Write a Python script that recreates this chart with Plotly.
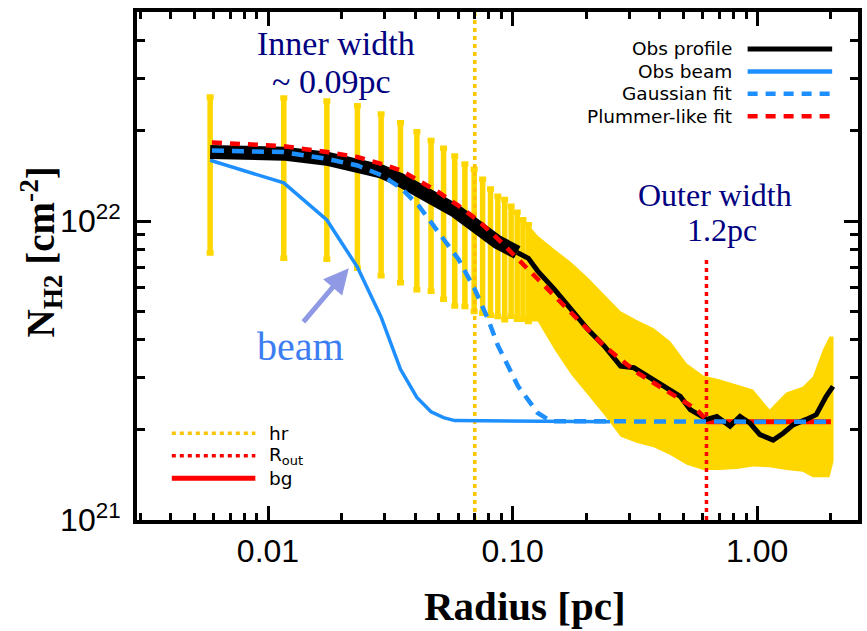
import math
import plotly.graph_objects as go

# ---------------- data ----------------
# radial bins with individual error bars (pc)
r_bins = [0.0058, 0.0116, 0.0174, 0.0232, 0.0290, 0.0348, 0.0406, 0.0464, 0.0522, 0.0580,
          0.0638, 0.0696, 0.0754, 0.0812, 0.0870, 0.0928, 0.0986, 0.1044, 0.1102, 0.1160]
prof_bins = [1.70e22, 1.68e22, 1.615e22, 1.53e22, 1.466e22, 1.37e22, 1.285e22, 1.207e22, 1.14e22, 1.086e22,
             1.025e22, 0.964e22, 0.916e22, 0.880e22, 0.849e22, 0.826e22, 0.806e22, 0.785e22, 0.769e22, 0.750e22]
bar_hi = [2.60e22, 2.58e22, 2.52e22, 2.43e22, 2.28e22, 2.13e22, 1.99e22, 1.86e22, 1.75e22, 1.65e22,
          1.55e22, 1.49e22, 1.38e22, 1.28e22, 1.21e22, 1.18e22, 1.12e22, 1.07e22, 1.01e22, 0.971e22]
bar_lo = [7.82e21, 7.50e21, 7.45e21, 6.95e21, 6.56e21, 6.22e21, 5.89e21, 5.82e21, 5.47e21, 5.20e21,
          5.18e21, 4.98e21, 4.91e21, 4.84e21, 4.79e21, 4.67e21, 4.80e21, 4.69e21, 4.69e21, 4.61e21]

# dense error envelope at larger radii
band_r = [0.1160, 0.1267, 0.1482, 0.1731, 0.2024, 0.2366, 0.2763, 0.3229, 0.3774, 0.4408,
          0.5152, 0.6022, 0.7036, 0.8224, 0.9612, 1.123, 1.313, 1.534, 1.689, 1.855, 1.973, 2.05]
band_hi = [9.71e21, 8.93e21, 8.05e21, 7.29e21, 6.49e21, 5.69e21, 4.99e21, 4.66e21, 4.38e21, 3.96e21,
           3.34e21, 3.04e21, 2.95e21, 2.84e21, 2.73e21, 2.34e21, 2.67e21, 2.79e21, 3.02e21, 3.72e21, 4.11e21, 4.11e21]
band_lo = [4.61e21, 4.61e21, 3.72e21, 3.07e21, 2.63e21, 2.25e21, 1.90e21, 1.81e21, 1.75e21, 1.65e21,
           1.53e21, 1.47e21, 1.47e21, 1.48e21, 1.51e21, 1.50e21, 1.47e21, 1.45e21, 1.39e21, 1.39e21, 1.39e21, 1.57e21]

# observed profile beyond the error-bar bins
prof_r = [0.1044, 0.1102, 0.1160, 0.1267, 0.1482, 0.1731, 0.2024, 0.2366, 0.2763, 0.3133,
          0.3548, 0.415, 0.4846, 0.532, 0.5666, 0.6223, 0.6834, 0.7737, 0.850, 0.933,
          1.025, 1.161, 1.276, 1.401, 1.585, 1.742, 1.913, 2.04]
prof_n = [7.85e21, 7.69e21, 7.50e21, 6.80e21, 5.91e21, 5.07e21, 4.35e21, 3.82e21, 3.27e21, 3.23e21,
          3.03e21, 2.80e21, 2.59e21, 2.34e21, 2.28e21, 2.17e21, 2.22e21, 2.06e21, 2.22e21, 2.11e21,
          1.93e21, 1.85e21, 1.95e21, 2.08e21, 2.17e21, 2.25e21, 2.59e21, 2.80e21]

# observed beam
beam_r = [0.0058, 0.0116, 0.0174, 0.0232, 0.0290, 0.0348, 0.0406, 0.0464, 0.0522, 0.0580, 0.25]
beam_n = [1.596e22, 1.341e22, 1.008e22, 7.01e21, 4.77e21, 3.19e21, 2.57e21, 2.30e21, 2.20e21, 2.15e21, 2.13e21]

# Gaussian fit
gauss_r = [0.0059, 0.0115, 0.0174, 0.0232, 0.0293, 0.0353, 0.0413, 0.0498, 0.0600, 0.0700,
           0.0794, 0.0872, 0.1053, 0.1267, 0.1436, 2.0]
gauss_n = [1.72e22, 1.70e22, 1.615e22, 1.533e22, 1.419e22, 1.28e22, 1.125e22, 9.16e21, 7.46e21, 5.91e21,
           4.69e21, 3.82e21, 2.80e21, 2.28e21, 2.14e21, 2.13e21]

# Plummer-like fit
plum_r = [0.0059, 0.0115, 0.0174, 0.0232, 0.0293, 0.0349, 0.0413, 0.0498, 0.0600, 0.0724,
          0.0872, 0.1053, 0.1267, 0.1528, 0.1842, 0.2366, 0.3229, 0.4408, 0.5666, 0.6223]
plum_n = [1.83e22, 1.78e22, 1.70e22, 1.636e22, 1.55e22, 1.475e22, 1.365e22, 1.248e22, 1.125e22, 1.002e22,
          8.70e21, 7.46e21, 6.38e21, 5.47e21, 4.69e21, 3.82e21, 3.11e21, 2.66e21, 2.34e21, 2.15e21]

# background, hr and R_out
bg_r = [0.6223, 2.0]
bg_n = [2.13e21, 2.13e21]
hr_r = 0.070
rout_r = 0.62
rout_top = 7.6e21
y_lim = [1e21, 5e22]
x_lim = [0.002914, 2.581]

x_tickvals = [0.01, 0.1, 1.0]
x_ticktext = ["0.01", "0.10", "1.00"]
x_minor = [0.003, 0.004, 0.005, 0.006, 0.007, 0.008, 0.009,
           0.02, 0.03, 0.04, 0.05, 0.06, 0.07, 0.08, 0.09,
           0.2, 0.3, 0.4, 0.5, 0.6, 0.7, 0.8, 0.9, 2.0]
y_tickvals = [1e21, 1e22]
y_ticktext = ["10<sup>21</sup>", "10<sup>22</sup>"]
y_minor = [2e21, 3e21, 4e21, 5e21, 6e21, 7e21, 8e21, 9e21, 2e22, 3e22, 4e22]

legend_top = ["Obs profile", "Obs beam", "Gaussian fit", "Plummer-like fit"]
legend_bot = ["hr", "R<sub>out</sub>", "bg"]

# ---------------- styles ----------------
GOLD = "#FFD700"
HRGOLD = "#FFC400"
BLUE = "#1E8FFF"
RED = "#FF0000"
NAVY = "#000080"
SERIF = "Liberation Serif"
SANS = "DejaVu Sans"

fig = go.Figure()

# dense envelope
fig.add_trace(go.Scatter(x=band_r + band_r[::-1], y=band_hi + band_lo[::-1], mode="lines",
                         fill="toself", fillcolor=GOLD, line=dict(width=0, color=GOLD)))
# error bars
fig.add_trace(go.Scatter(x=r_bins, y=prof_bins, mode="markers",
                         marker=dict(size=1, color="rgba(0,0,0,0)"),
                         error_y=dict(type="data", symmetric=False,
                                      array=[h - p for h, p in zip(bar_hi, prof_bins)],
                                      arrayminus=[p - l for p, l in zip(prof_bins, bar_lo)],
                                      color=GOLD, thickness=5.5, width=3.5)))
# vertical markers
fig.add_trace(go.Scatter(x=[hr_r, hr_r], y=y_lim, mode="lines",
                         line=dict(color=HRGOLD, width=3.5, dash="4px,4px")))
fig.add_trace(go.Scatter(x=[rout_r, rout_r], y=[y_lim[0], rout_top], mode="lines",
                         line=dict(color=RED, width=3.5, dash="4px,4px")))
# background
fig.add_trace(go.Scatter(x=bg_r, y=bg_n, mode="lines", line=dict(color=RED, width=5)))
# beam
fig.add_trace(go.Scatter(x=beam_r, y=beam_n, mode="lines", line=dict(color=BLUE, width=3.5)))
# observed profile (thick inner part, thinner outer part)
fig.add_trace(go.Scatter(x=r_bins[:18], y=prof_bins[:18], mode="lines",
                         line=dict(color="black", width=14)))
fig.add_trace(go.Scatter(x=prof_r, y=prof_n, mode="lines", line=dict(color="black", width=5)))
# fits
fig.add_trace(go.Scatter(x=gauss_r, y=gauss_n, mode="lines",
                         line=dict(color=BLUE, width=4.5, dash="12px,8px")))
fig.add_trace(go.Scatter(x=plum_r, y=plum_n, mode="lines",
                         line=dict(color=RED, width=4.5, dash="10px,8px")))

# ---------------- layout geometry ----------------
L, R, T, B = 137, 862, 12, 520
W, H = R - L, B - T


def px(x):
    return (x - L) / W


def py(y):
    return (B - y) / H


shapes = []
annotations = []

# top-right legend
top_styles = [dict(color="black", width=5), dict(color=BLUE, width=4.5),
              dict(color=BLUE, width=4.5, dash="10px,8px"), dict(color=RED, width=4.5, dash="10px,8px")]
for i, (lab, st) in enumerate(zip(legend_top, top_styles)):
    yy = py(49 + i * 22.4)
    shapes.append(dict(type="line", xref="paper", yref="paper", x0=px(751), x1=px(836),
                       y0=yy, y1=yy, line=st))
    annotations.append(dict(text=lab, xref="paper", yref="paper", x=px(737), y=yy,
                            xanchor="right", yanchor="middle", showarrow=False,
                            font=dict(family=SANS, size=18.5, color="black")))

# bottom-left legend
bot_styles = [dict(color=HRGOLD, width=3.5, dash="4px,4px"), dict(color=RED, width=3.5, dash="4px,4px"),
              dict(color=RED, width=5)]
for i, (lab, st) in enumerate(zip(legend_bot, bot_styles)):
    yy = py(433.3 + i * 22.5)
    shapes.append(dict(type="line", xref="paper", yref="paper", x0=px(172), x1=px(256),
                       y0=yy, y1=yy, line=st))
    annotations.append(dict(text=lab, xref="paper", yref="paper", x=px(268), y=yy,
                            xanchor="left", yanchor="middle", showarrow=False,
                            font=dict(family=SANS, size=18.5, color="black")))

# text labels
for txt, x, y, col, size in [("Inner width", 336.7, 43.3, NAVY, 34),
                             ("~ 0.09pc", 333, 81.7, NAVY, 34),
                             ("Outer width", 718.3, 195, NAVY, 32),
                             ("1.2pc", 725, 230, NAVY, 32),
                             ("beam", 301.7, 346.7, "#3C7EF2", 40)]:
    annotations.append(dict(text=txt, xref="paper", yref="paper", x=px(x), y=py(y),
                            xanchor="center", yanchor="middle", showarrow=False,
                            font=dict(family=SERIF, size=size, color=col)))

# arrow pointing at the beam
annotations.append(dict(text="", xref="paper", yref="paper", x=px(350), y=py(268.3),
                        ax=-46.7, ay=55, axref="pixel", ayref="pixel", showarrow=True,
                        arrowhead=2, arrowsize=1.0, arrowwidth=5, arrowcolor="#8F99E4"))

# axis titles
annotations.append(dict(text="<b>Radius [pc]</b>", xref="paper", yref="paper", x=px(527), y=py(606),
                        xanchor="center", yanchor="middle", showarrow=False,
                        font=dict(family=SERIF, size=41, color="black")))
annotations.append(dict(text="<b>N<sub>H2</sub> [cm<sup>-2</sup>]</b>", xref="paper", yref="paper",
                        x=px(40), y=py(252), xanchor="center", yanchor="middle", showarrow=False,
                        textangle=-90, font=dict(family=SERIF, size=39, color="black")))

axis_common = dict(type="log", showline=True, linewidth=4, linecolor="black", mirror="ticks",
                   ticks="inside", ticklen=14, tickwidth=3, tickcolor="black",
                   showgrid=False, zeroline=False, tickmode="array")

fig.update_layout(
    width=867, height=631,
    margin=dict(l=L, r=867 - R, t=T, b=631 - B),
    paper_bgcolor="white", plot_bgcolor="white",
    showlegend=False,
    shapes=shapes, annotations=annotations,
    xaxis=dict(**axis_common, range=[math.log10(v) for v in x_lim],
               tickvals=x_tickvals, ticktext=x_ticktext, ticklabelstandoff=0,
               tickfont=dict(family="Liberation Sans", size=32, color="black"),
               minor=dict(tickmode="array", tickvals=x_minor, ticks="inside", ticklen=7,
                          tickwidth=3, tickcolor="black", showgrid=False)),
    yaxis=dict(**axis_common, range=[math.log10(v) for v in y_lim],
               tickvals=y_tickvals, ticktext=y_ticktext, ticklabelstandoff=6,
               tickfont=dict(family="Liberation Sans", size=32, color="black"),
               minor=dict(tickmode="array", tickvals=y_minor, ticks="inside", ticklen=8,
                          tickwidth=3, tickcolor="black", showgrid=False)),
)

fig.write_html("out.html")
